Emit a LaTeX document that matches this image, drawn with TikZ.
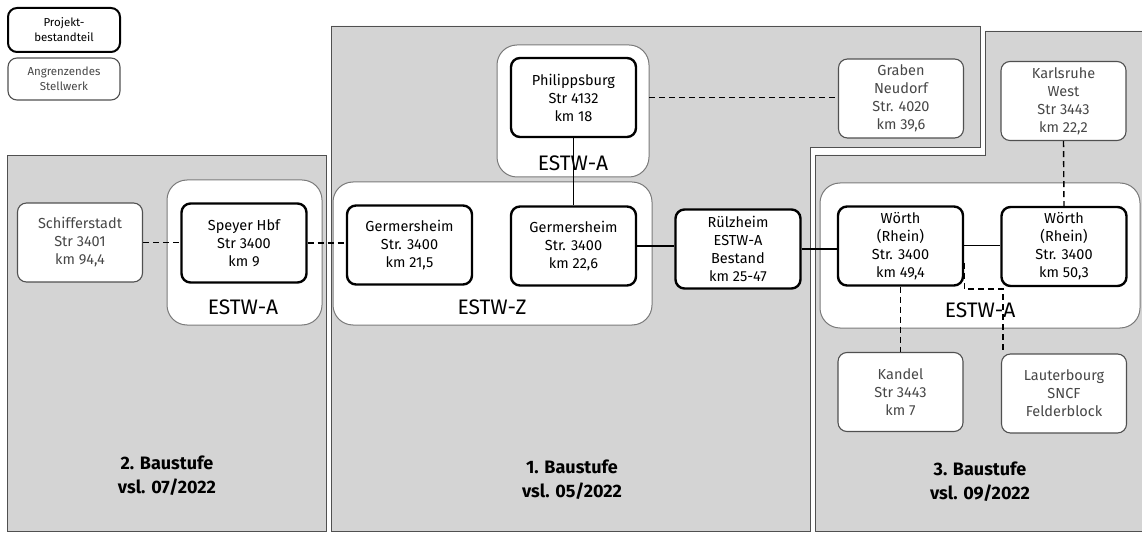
\documentclass[tikz,border=0pt]{standalone}
\usepackage{fontspec}
\setmainfont{Fira Sans}
\usetikzlibrary{positioning}
\definecolor{regiongray}{HTML}{D4D4D4}
\definecolor{framegray}{HTML}{505050}
\definecolor{softgray}{HTML}{7A7A7A}
\tikzset{
	projbox/.style={draw=black, line width=2.4pt, fill=white, rounded corners=9pt,
		minimum width=125pt, minimum height=79pt, align=center, inner sep=2pt,
		font=\fontsize{14.5}{18}\selectfont},
	nachbarbox/.style={projbox, draw=framegray, line width=1.1pt, text=black!72},
	estwbox/.style={draw=softgray, line width=1pt, fill=white, rounded corners=20pt},
	estwlabel/.style={font=\fontsize{21}{24}\selectfont, inner sep=1pt},
	stufelabel/.style={align=center, font=\fontsize{18}{24}\selectfont\bfseries},
	region/.style={draw=framegray, line width=0.8pt, fill=regiongray},
	gleis/.style={draw=black, line width=1.4pt},
	gleisdash/.style={gleis, dash pattern=on 6pt off 4pt}
}

\begin{document}
\begin{tikzpicture}[x=1pt, y=-1pt]
				\useasboundingbox (0,0) rectangle (1142,534);
				% Baustufen
				\fill[white] (0,0) rectangle (1142,534);
				\draw[region] (7,155) rectangle (326,531);
				\draw[region] (331,26) -- (980,26) -- (980,147) -- (810,147) -- (810,531) -- (331,531) -- cycle;
				\draw[region] (985,31) -- (1145,31) -- (1145,531) -- (815,531) -- (815,155) -- (985,155) -- cycle;
				% Stellwerksbereiche
				\draw[estwbox] (167,180) rectangle (322,325);
				\draw[estwbox] (333,182) rectangle (652,325);
				\draw[estwbox] (497,45) rectangle (649,177);
				\draw[estwbox] (820,183) rectangle (1140,328);
				\node[estwlabel] (lblSpeyer) at (243,307) {ESTW-A};
				\node[estwlabel] (lblZentral) at (492,307) {ESTW-Z};
				\node[estwlabel] (lblPhilipp) at (573,163) {ESTW-A};
				\node[estwlabel] (lblWoerth) at (980,310) {ESTW-A};
				% Legende
				\node[projbox, minimum width=112pt, minimum height=44pt, line width=2pt,
				font=\fontsize{11.5}{15}\selectfont] (legProj) at (64,30) {Projekt-\\bestandteil};
				\node[nachbarbox, minimum width=112pt, minimum height=42pt,
				font=\fontsize{11.5}{15}\selectfont] (legNachbar) at (64,79) {Angrenzendes\\Stellwerk};
				% Stellwerke
				\node[nachbarbox] (schifferstadt) at (80,242.5) {Schifferstadt\\Str 3401\\km 94,4};
				\node[projbox] (speyer) at (244,243) {Speyer Hbf\\Str 3400\\km 9};
				\node[projbox] (germA) at (409.5,245) {Germersheim\\Str. 3400\\km 21,5};
				\node[projbox] (germB) at (573.5,246) {Germersheim\\Str. 3400\\km 22,6};
				\node[projbox] (philippsburg) at (573.5,97.5) {Philippsburg\\Str 4132\\km 18};
				\node[projbox] (ruelzheim) at (738,249) {Rülzheim\\ESTW-A\\Bestand\\km 25-47};
				\node[nachbarbox] (graben) at (901,98.5) {Graben\\Neudorf\\Str. 4020\\km 39,6};
				\node[nachbarbox] (karlsruhe) at (1063.5,101) {Karlsruhe\\West\\Str 3443\\km 22,2};
				\node[projbox] (woerthA) at (900.5,246) {Wörth\\(Rhein)\\Str. 3400\\km 49,4};
				\node[projbox] (woerthB) at (1064,246.5) {Wörth\\(Rhein)\\Str. 3400\\km 50,3};
				\node[nachbarbox] (kandel) at (900.5,392) {Kandel\\Str 3443\\km 7};
				\node[nachbarbox] (lauterbourg) at (1064,393.5) {Lauterbourg\\SNCF\\Felderblock};
				% Verbindungen
				\draw[gleisdash] (schifferstadt.east) -- (schifferstadt.east -| speyer.west);
				\draw[gleisdash] (speyer.east) -- (speyer.east -| germA.west);
				\draw[gleis] (philippsburg.south) -- (germB.north);
				\draw[gleis] (germB.east) -- (germB.east -| ruelzheim.west);
				\draw[gleis] (ruelzheim.east) -- (ruelzheim.east -| woerthA.west);
				\draw[gleis, line width=1pt] (woerthA.east) -- (woerthA.east -| woerthB.west);
				\draw[gleisdash] ([xshift=12pt]philippsburg.east) -- (philippsburg.east -| graben.west);
				\draw[gleisdash] (karlsruhe.south) -- (woerthB.north);
				\draw[gleisdash] (woerthA.south) -- (kandel.north);
				\coordinate (lauterKnick) at (1003,289);
				\draw[gleisdash] ([yshift=-17pt]woerthA.east) |- (lauterKnick) -- (lauterKnick |- lauterbourg.north);
				% Zeitplan
				\node[stufelabel] (stufeZwei) at (167,476) {2. Baustufe\\vsl. 07/2022};
				\node[stufelabel] (stufeEins) at (572,480) {1. Baustufe\\vsl. 05/2022};
				\node[stufelabel] (stufeDrei) at (980,482) {3. Baustufe\\vsl. 09/2022};
			\end{tikzpicture}
\end{document}
